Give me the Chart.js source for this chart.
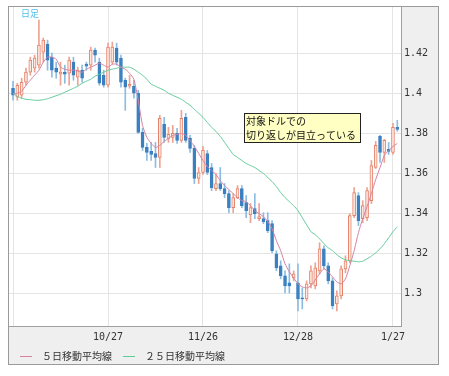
<!DOCTYPE html>
<html>
<head>
<meta charset="utf-8">
<script src="https://cdn.jsdelivr.net/npm/chart.js@4/dist/chart.umd.min.js"></script>
<style>
  body { margin: 0; background: #fff; }
  #box { position: absolute; left: 8px; top: 6px; width: 429px; height: 357px; border: 1px solid #9a9a9a; }
  canvas { display: block; }
</style>
</head>
<body>
<div id="box"><canvas id="chart" width="429" height="357"></canvas></div>
<script>
// daily candles (index 0 .. 89)
const opens = [1.4025, 1.398, 1.399, 1.4055, 1.4105, 1.4125, 1.414, 1.4205, 1.4245, 1.418,
  1.4125, 1.4095, 1.4105, 1.41, 1.4155, 1.408, 1.4115, 1.4145, 1.414, 1.4215,
  1.4155, 1.409, 1.404, 1.4155, 1.4225, 1.4175, 1.4065, 1.4035, 1.4035, 1.4,
  1.3805, 1.373, 1.371, 1.37, 1.368, 1.3845, 1.3775, 1.378, 1.38, 1.3765,
  1.388, 1.3775, 1.3725, 1.3575, 1.3605, 1.37, 1.363, 1.3525, 1.355, 1.3525,
  1.35, 1.343, 1.348, 1.3525, 1.3455, 1.3395, 1.3425, 1.3375, 1.3375, 1.3365,
  1.335, 1.32, 1.314, 1.309, 1.3055, 1.308, 1.3055, 1.298, 1.2975, 1.305,
  1.304, 1.3115, 1.3225, 1.314, 1.3065, 1.295, 1.299, 1.3125, 1.3165, 1.339,
  1.349, 1.3375, 1.338, 1.3465, 1.363, 1.3785, 1.3705, 1.372, 1.3705, 1.383];
const highs = [1.406, 1.405, 1.4075, 1.4125, 1.418, 1.419, 1.4365, 1.4275, 1.4265, 1.42,
  1.4155, 1.4155, 1.414, 1.418, 1.418, 1.413, 1.414, 1.4155, 1.423, 1.4225,
  1.4175, 1.4115, 1.425, 1.4255, 1.425, 1.419, 1.4075, 1.409, 1.4065, 1.4015,
  1.3825, 1.375, 1.3755, 1.3755, 1.389, 1.388, 1.383, 1.384, 1.3825, 1.3915,
  1.39, 1.379, 1.374, 1.363, 1.3735, 1.3715, 1.365, 1.36, 1.363, 1.355,
  1.3515, 1.35, 1.354, 1.354, 1.349, 1.345, 1.35, 1.345, 1.3405, 1.3405,
  1.3365, 1.3215, 1.3165, 1.3115, 1.315, 1.3115, 1.315, 1.303, 1.3065, 1.314,
  1.3155, 1.3255, 1.324, 1.3155, 1.308, 1.3015, 1.314, 1.319, 1.34, 1.353,
  1.3505, 1.3465, 1.353, 1.3665, 1.376, 1.379, 1.377, 1.3755, 1.385, 1.3865];
const lows = [1.3965, 1.3965, 1.3975, 1.404, 1.409, 1.4105, 1.4125, 1.4155, 1.4115, 1.408,
  1.4075, 1.404, 1.405, 1.404, 1.4065, 1.404, 1.4055, 1.4115, 1.4115, 1.4155,
  1.404, 1.403, 1.403, 1.4145, 1.414, 1.403, 1.3915, 1.4025, 1.3975, 1.38,
  1.3715, 1.3665, 1.3665, 1.363, 1.363, 1.3755, 1.3755, 1.3755, 1.375, 1.3755,
  1.3755, 1.3705, 1.355, 1.355, 1.3595, 1.3595, 1.3515, 1.3515, 1.3515, 1.348,
  1.3405, 1.3405, 1.3475, 1.343, 1.338, 1.3355, 1.3375, 1.3365, 1.335, 1.3305,
  1.3205, 1.3115, 1.3075, 1.3005, 1.3005, 1.3065, 1.2915, 1.2925, 1.2965, 1.303,
  1.3025, 1.31, 1.3125, 1.305, 1.2925, 1.2915, 1.2975, 1.3105, 1.3155, 1.338,
  1.334, 1.3355, 1.3365, 1.345, 1.3625, 1.3655, 1.3655, 1.3695, 1.3695, 1.381];
const closes = [1.399, 1.404, 1.4055, 1.4105, 1.4165, 1.4175, 1.424, 1.4265, 1.4165, 1.4115,
  1.4105, 1.4105, 1.4095, 1.4165, 1.409, 1.4115, 1.4075, 1.4135, 1.4215, 1.419,
  1.405, 1.404, 1.423, 1.423, 1.4155, 1.4055, 1.403, 1.4045, 1.4, 1.3805,
  1.373, 1.3705, 1.3695, 1.368, 1.3875, 1.378, 1.3795, 1.38, 1.3765, 1.3875,
  1.3765, 1.3725, 1.3575, 1.3605, 1.3715, 1.3605, 1.353, 1.355, 1.3525, 1.35,
  1.343, 1.348, 1.3525, 1.344, 1.3415, 1.343, 1.34, 1.3385, 1.336, 1.3315,
  1.3215, 1.313, 1.309, 1.304, 1.304, 1.31, 1.2975, 1.2975, 1.305, 1.3115,
  1.313, 1.3225, 1.314, 1.3065, 1.294, 1.299, 1.3125, 1.3165, 1.339, 1.3505,
  1.3365, 1.344, 1.3515, 1.364, 1.374, 1.3705, 1.3765, 1.371, 1.383, 1.382];

// moving averages as drawn in the picture
const ma5 = [1.3995, 1.4, 1.401, 1.404, 1.4065, 1.409, 1.4115, 1.4155, 1.418, 1.418,
  1.417, 1.413, 1.412, 1.4115, 1.4115, 1.411, 1.4105, 1.412, 1.413, 1.414,
  1.415, 1.414, 1.413, 1.4145, 1.4145, 1.413, 1.412, 1.41, 1.407, 1.3965,
  1.384, 1.378, 1.375, 1.373, 1.374, 1.376, 1.3775, 1.379, 1.3795, 1.38,
  1.379, 1.3765, 1.3735, 1.37, 1.3665, 1.3635, 1.3615, 1.3595, 1.3565, 1.354,
  1.352, 1.35, 1.348, 1.3465, 1.346, 1.344, 1.3415, 1.34, 1.3385, 1.336,
  1.3325, 1.3265, 1.3215, 1.315, 1.311, 1.308, 1.305, 1.3035, 1.303, 1.304,
  1.307, 1.31, 1.3125, 1.311, 1.3085, 1.306, 1.305, 1.3075, 1.314, 1.3215,
  1.3305, 1.3375, 1.3435, 1.35, 1.357, 1.363, 1.369, 1.3715, 1.3735, 1.375];
const ma25 = [1.4, 1.3985, 1.3975, 1.397, 1.3968, 1.3965, 1.3965, 1.3968, 1.3973, 1.398,
  1.3988, 1.3995, 1.4005, 1.4015, 1.4025, 1.4035, 1.405, 1.406, 1.407, 1.4085,
  1.4095, 1.4105, 1.4115, 1.412, 1.4125, 1.413, 1.413, 1.413, 1.412, 1.4105,
  1.409, 1.407, 1.4045, 1.4035, 1.4025, 1.4015, 1.4, 1.399, 1.398, 1.397,
  1.3955, 1.394, 1.392, 1.39, 1.388, 1.3855, 1.383, 1.381, 1.3785, 1.3755,
  1.3725, 1.3695, 1.368, 1.3665, 1.365, 1.364, 1.363, 1.3615, 1.36, 1.358,
  1.356, 1.3535, 1.3505, 1.348, 1.346, 1.344, 1.3415, 1.338, 1.3345, 1.331,
  1.3295, 1.3275, 1.325, 1.323, 1.3215, 1.3195, 1.318, 1.317, 1.3165, 1.3163,
  1.316, 1.3163, 1.3175, 1.3188, 1.3205, 1.3225, 1.325, 1.328, 1.331, 1.3335];

const maLabels = ['５日移動平均線', '２５日移動平均線'];

// axis ticks
const xTickIndex = [0, 22, 44, 66, 88];
const xTickLabels = ['', '10/27', '11/26', '12/28', '1/27'];
const yTicks = [1.3, 1.32, 1.34, 1.36, 1.38, 1.4, 1.42];

const noteLines = ['対象ドルでの', '切り返しが目立っている'];
const periodLabel = '日足';

const UP_LINE = '#e4836a';
const UP_FILL = '#fde7df';
const UP_WICK = '#eea391';
const DOWN_FILL = '#3b80c0';
const DOWN_WICK = '#8dbce2';

const isUp = closes.map((c, i) => c >= opens[i]);

// gray panel, white plot area
const panelBg = {
  id: 'panelBg',
  beforeDraw(chart) {
    const { ctx, chartArea: a, width, height } = chart;
    ctx.save();
    ctx.fillStyle = '#efefef';
    ctx.fillRect(0, 0, width, height);
    ctx.fillStyle = '#fff';
    ctx.fillRect(a.left, a.top, a.right - a.left, a.bottom - a.top);
    ctx.restore();
  }
};

// period label, callout box and the MA legend
const extras = {
  id: 'extras',
  afterDraw(chart) {
    const ctx = chart.ctx;
    ctx.save();
    ctx.textBaseline = 'middle';
    ctx.textAlign = 'left';

    ctx.fillStyle = '#4fc1ea';
    ctx.font = '9px "Noto Sans CJK JP"';
    ctx.fillText(periodLabel, 12, 7);

    ctx.fillStyle = '#ffffc4';
    ctx.fillRect(235, 106, 117, 30);
    ctx.strokeStyle = '#222';
    ctx.lineWidth = 1;
    ctx.strokeRect(235.5, 106.5, 116, 29);
    ctx.fillStyle = '#111';
    ctx.font = '10px "Noto Sans CJK JP"';
    ctx.fillText(noteLines[0], 237, 114);
    ctx.fillText(noteLines[1], 237, 128);

    ctx.font = '10px "Noto Sans CJK JP"';
    let x = 11;
    chart.data.datasets.filter(d => d.type === 'line').forEach(d => {
      ctx.strokeStyle = d.borderColor;
      ctx.beginPath();
      ctx.moveTo(x, 349.5);
      ctx.lineTo(x + 12, 349.5);
      ctx.stroke();
      ctx.fillStyle = '#333';
      ctx.fillText(d.label, x + 22, 349);
      x += 22 + ctx.measureText(d.label).width + 11;
    });
    ctx.restore();
  }
};

const idx = opens.map((o, i) => i);

new Chart(document.querySelector('#chart').getContext('2d'), {
  type: 'bar',
  data: {
    datasets: [
      {
        type: 'line',
        label: maLabels[0],
        data: idx.map(i => ({ x: i, y: ma5[i] })),
        borderColor: '#d683a3',
        borderWidth: 1,
        pointRadius: 0,
        tension: 0.2,
        order: 0
      },
      {
        type: 'line',
        label: maLabels[1],
        data: idx.map(i => ({ x: i, y: ma25[i] })),
        borderColor: '#5fcc98',
        borderWidth: 1,
        pointRadius: 0,
        tension: 0.2,
        order: 0
      },
      {
        label: 'body',
        data: idx.map(i => ({ x: i, y: [opens[i], closes[i]] })),
        backgroundColor: isUp.map(u => u ? UP_FILL : DOWN_FILL),
        borderColor: isUp.map(u => u ? UP_LINE : DOWN_FILL),
        borderWidth: 1,
        borderSkipped: false,
        barThickness: 3,
        minBarLength: 1,
        grouped: false,
        order: 1
      },
      {
        label: 'wick',
        data: idx.map(i => ({ x: i, y: [lows[i], highs[i]] })),
        backgroundColor: isUp.map(u => u ? UP_WICK : DOWN_WICK),
        barThickness: 1,
        grouped: false,
        order: 2
      }
    ]
  },
  options: {
    responsive: false,
    animation: false,
    layout: { padding: 0 },
    plugins: { legend: { display: false }, tooltip: { enabled: false } },
    scales: {
      x: {
        type: 'linear',
        min: -0.93,
        max: 89.86,
        offset: false,
        grid: { color: '#e4e4e4', drawTicks: false, offset: false },
        border: { color: '#a0a0a0', width: 1 },
        afterBuildTicks: axis => { axis.ticks = xTickIndex.map(v => ({ value: v })); },
        afterFit: axis => { axis.height = 38; axis.paddingLeft = 0; axis.paddingRight = 0; },
        ticks: {
          autoSkip: false,
          maxRotation: 0,
          padding: 5,
          color: '#333',
          font: { family: 'DejaVu Sans Mono', size: 10 },
          callback: (v, i) => xTickLabels[i]
        }
      },
      y: {
        position: 'right',
        min: 1.284,
        max: 1.443,
        grid: { color: '#e4e4e4', drawTicks: false },
        border: { color: '#a0a0a0', width: 1 },
        afterBuildTicks: axis => { axis.ticks = yTicks.map(v => ({ value: v })); },
        afterFit: axis => { axis.width = 37; axis.paddingTop = 0; axis.paddingBottom = 0; },
        ticks: {
          padding: 3,
          color: '#333',
          font: { family: 'DejaVu Sans Mono', size: 10 },
          callback: v => String(+v.toFixed(2))
        }
      }
    }
  },
  plugins: [panelBg, extras]
});
</script>
</body>
</html>
